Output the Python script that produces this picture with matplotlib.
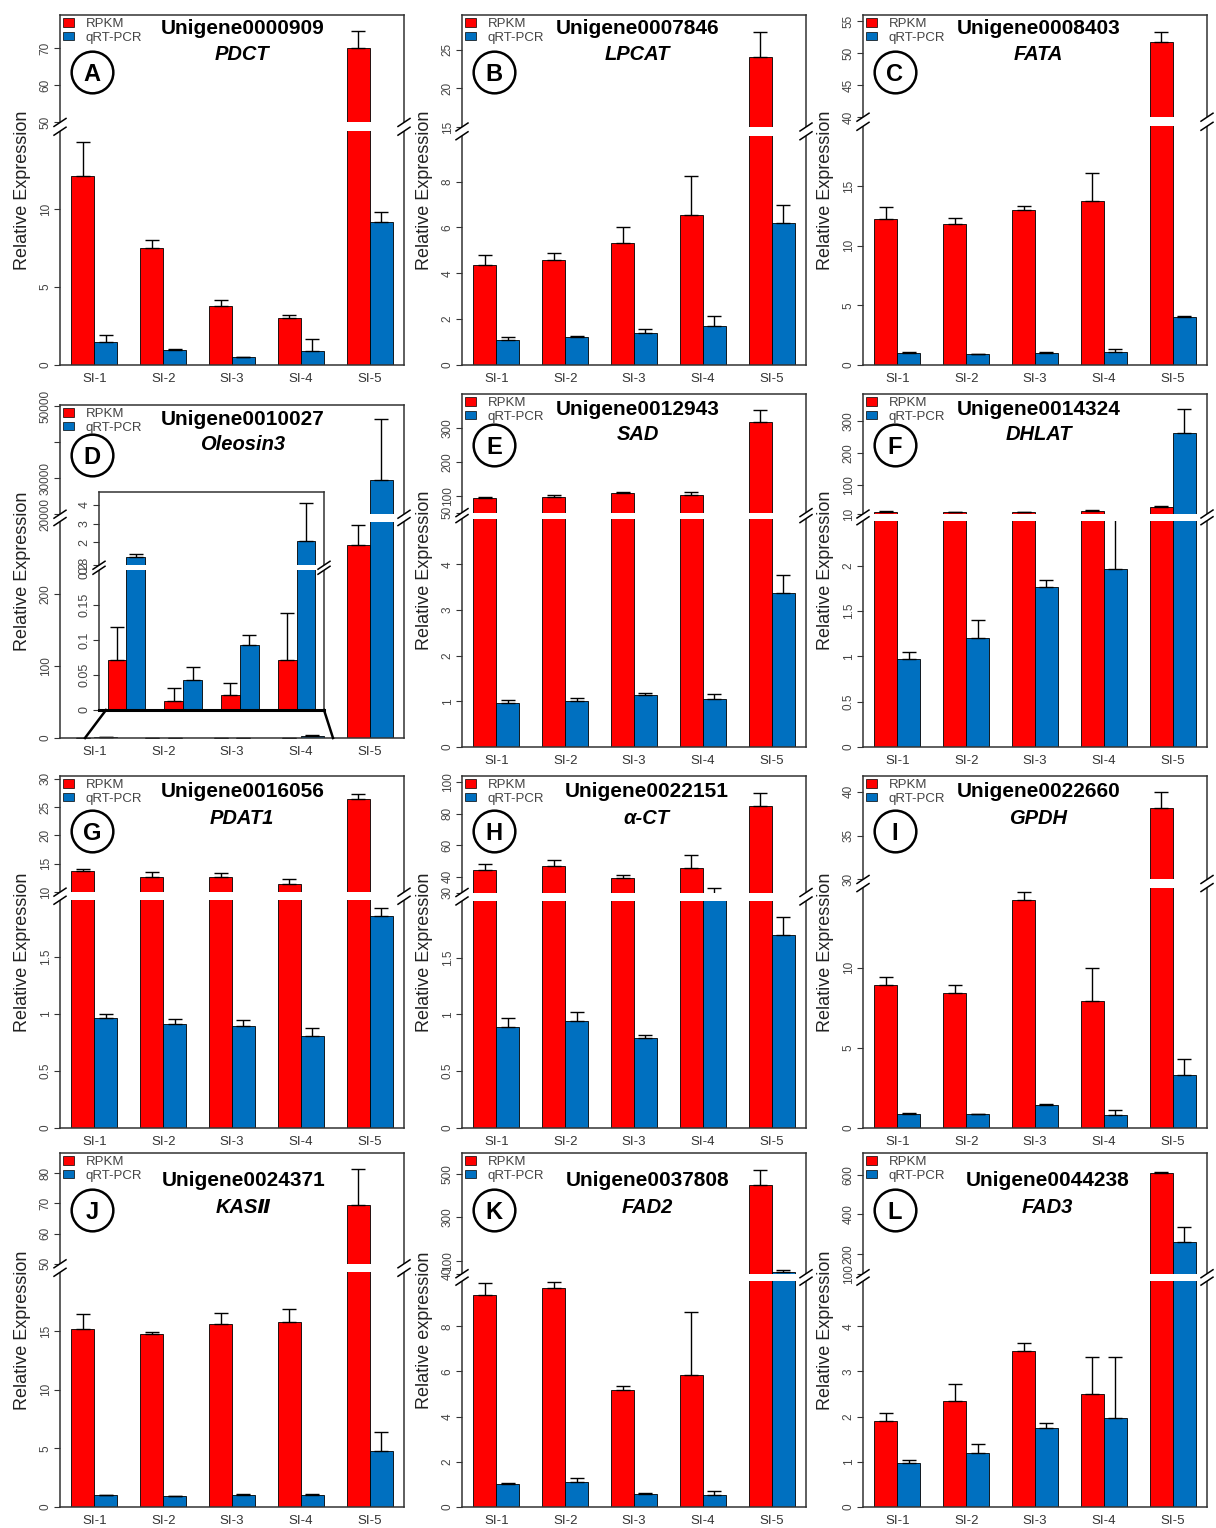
import numpy as np
import matplotlib.pyplot as plt
from matplotlib.patches import Patch, Polygon
from matplotlib.lines import Line2D
from matplotlib.ticker import NullLocator

plt.rcParams['font.family'] = ['Liberation Sans', 'DejaVu Sans', 'Noto Sans CJK SC']

RED = '#FF0000'
BLUE = '#0070C0'
INK = '#333333'

stages = ['SI-1', 'SI-2', 'SI-3', 'SI-4', 'SI-5']

# mean values and upper error bars: RPKM (red) and qRT-PCR (blue)
# (A) PDCT
pdct_rpkm = [12.1, 7.5, 3.8, 3.0, 70.0]
pdct_rpkm_err = [2.2, 0.55, 0.4, 0.2, 4.7]
pdct_qpcr = [1.5, 0.97, 0.5, 0.9, 9.2]
pdct_qpcr_err = [0.4, 0.05, 0.04, 0.75, 0.6]

# (B) LPCAT
lpcat_rpkm = [4.35, 4.6, 5.3, 6.55, 24.1]
lpcat_rpkm_err = [0.43, 0.3, 0.7, 1.7, 3.2]
lpcat_qpcr = [1.1, 1.2, 1.4, 1.7, 6.2]
lpcat_qpcr_err = [0.1, 0.07, 0.17, 0.45, 0.8]

# (C) FATA
fata_rpkm = [12.2, 11.8, 13.0, 13.7, 51.7]
fata_rpkm_err = [1.0, 0.5, 0.3, 2.4, 1.6]
fata_qpcr = [1.0, 0.91, 1.02, 1.1, 4.0]
fata_qpcr_err = [0.05, 0.03, 0.03, 0.2, 0.12]

# (D) Oleosin3
oleosin3_rpkm = [0.072, 0.013, 0.021, 0.072, 267]
oleosin3_rpkm_err = [0.047, 0.018, 0.017, 0.067, 28]
oleosin3_qpcr = [1.24, 0.043, 0.093, 2.08, 29400]
oleosin3_qpcr_err = [0.14, 0.019, 0.015, 2.0, 17000]

# (E) SAD
sad_rpkm = [93, 97, 108, 102, 317]
sad_rpkm_err = [3, 5, 4, 8, 37]
sad_qpcr = [0.97, 1.0, 1.13, 1.06, 3.37]
sad_qpcr_err = [0.05, 0.07, 0.06, 0.09, 0.4]

# (F) DHLAT
dhlat_rpkm = [16, 15, 16, 19, 33]
dhlat_rpkm_err = [2, 1, 1.5, 3, 2]
dhlat_qpcr = [0.97, 1.2, 1.77, 1.97, 261]
dhlat_qpcr_err = [0.08, 0.2, 0.08, 3.0, 75]

# (G) PDAT1
pdat1_rpkm = [13.7, 12.7, 12.7, 11.4, 26.4]
pdat1_rpkm_err = [0.35, 0.9, 0.6, 1.0, 1.0]
pdat1_qpcr = [0.97, 0.91, 0.9, 0.81, 1.86]
pdat1_qpcr_err = [0.03, 0.05, 0.045, 0.07, 0.07]

# (H) alpha-CT
act_rpkm = [44.6, 46.7, 39.4, 45.7, 85.2]
act_rpkm_err = [3.8, 4.2, 1.5, 8.4, 8.2]
act_qpcr = [0.89, 0.94, 0.79, 25, 1.7]
act_qpcr_err = [0.08, 0.08, 0.03, 8, 0.16]

# (I) GPDH
gpdh_rpkm = [8.9, 8.44, 14.2, 7.9, 38.1]
gpdh_rpkm_err = [0.5, 0.5, 0.5, 2.1, 1.9]
gpdh_qpcr = [0.9, 0.85, 1.46, 0.83, 3.3]
gpdh_qpcr_err = [0.04, 0.03, 0.04, 0.27, 1.0]

# (J) KASII
kas2_rpkm = [15.2, 14.7, 15.6, 15.8, 69.5]
kas2_rpkm_err = [1.25, 0.2, 0.95, 1.05, 11.8]
kas2_qpcr = [1.02, 0.94, 1.05, 1.05, 4.8]
kas2_qpcr_err = [0.04, 0.02, 0.03, 0.05, 1.6]

# (K) FAD2
fad2_rpkm = [9.4, 9.7, 5.2, 5.83, 447]
fad2_rpkm_err = [0.5, 0.25, 0.15, 2.8, 70]
fad2_qpcr = [1.03, 1.1, 0.59, 0.54, 49]
fad2_qpcr_err = [0.02, 0.2, 0.02, 0.16, 8]

# (L) FAD3
fad3_rpkm = [1.91, 2.34, 3.45, 2.51, 608]
fad3_rpkm_err = [0.18, 0.38, 0.18, 0.82, 4]
fad3_qpcr = [0.98, 1.19, 1.76, 1.96, 259]
fad3_qpcr_err = [0.07, 0.2, 0.09, 1.37, 76]

# brk = (top of lower segment, bottom of upper segment, axis top)
# frac = (height share of lower segment, height share of the gap)
panels = [
    dict(tag='A', unigene='Unigene0000909', gene='PDCT',
         data=(pdct_rpkm, pdct_rpkm_err, pdct_qpcr, pdct_qpcr_err),
         brk=(15, 50, 79), frac=(0.668, 0.025), ticks=([0, 5, 10], [50, 60, 70]), tx=0.53),
    dict(tag='B', unigene='Unigene0007846', gene='LPCAT',
         data=(lpcat_rpkm, lpcat_rpkm_err, lpcat_qpcr, lpcat_qpcr_err),
         brk=(10, 15, 29.5), frac=(0.655, 0.025), ticks=([0, 2, 4, 6, 8], [15, 20, 25]), tx=0.51),
    dict(tag='C', unigene='Unigene0008403', gene='FATA',
         data=(fata_rpkm, fata_rpkm_err, fata_qpcr, fata_qpcr_err),
         brk=(20, 40, 56), frac=(0.682, 0.026), ticks=([0, 5, 10, 15], [40, 45, 50, 55]), tx=0.51),
    dict(tag='D', unigene='Unigene0010027', gene='Oleosin3',
         data=(oleosin3_rpkm, oleosin3_rpkm_err, oleosin3_qpcr, oleosin3_qpcr_err),
         brk=(300, 20000, 50300), frac=(0.65, 0.022),
         ticks=([0, 100, 200], [20000, 30000, 40000, 50000]), tx=0.53),
    dict(tag='E', unigene='Unigene0012943', gene='SAD',
         data=(sad_rpkm, sad_rpkm_err, sad_qpcr, sad_qpcr_err),
         brk=(5, 50, 400), frac=(0.647, 0.017), ticks=([0, 1, 2, 3, 4], [50, 100, 200, 300]), tx=0.51),
    dict(tag='F', unigene='Unigene0014324', gene='DHLAT',
         data=(dhlat_rpkm, dhlat_rpkm_err, dhlat_qpcr, dhlat_qpcr_err),
         brk=(2.5, 10, 383), frac=(0.641, 0.019), ticks=([0, 0.5, 1, 1.5, 2], [10, 100, 200, 300]), tx=0.51),
    dict(tag='G', unigene='Unigene0016056', gene='PDAT1',
         data=(pdat1_rpkm, pdat1_rpkm_err, pdat1_qpcr, pdat1_qpcr_err),
         brk=(2, 10, 30.5), frac=(0.647, 0.023), ticks=([0, 0.5, 1, 1.5], [10, 15, 20, 25, 30]), tx=0.53),
    dict(tag='H', unigene='Unigene0022151', gene='α-CT',
         data=(act_rpkm, act_rpkm_err, act_qpcr, act_qpcr_err),
         brk=(2, 30, 104), frac=(0.645, 0.024), ticks=([0, 0.5, 1, 1.5], [30, 40, 60, 80, 100]), tx=0.537),
    dict(tag='I', unigene='Unigene0022660', gene='GPDH',
         data=(gpdh_rpkm, gpdh_rpkm_err, gpdh_qpcr, gpdh_qpcr_err),
         brk=(15, 30, 41.8), frac=(0.683, 0.023), ticks=([0, 5, 10], [30, 35, 40]), tx=0.51),
    dict(tag='J', unigene='Unigene0024371', gene='KASⅡ',
         data=(kas2_rpkm, kas2_rpkm_err, kas2_qpcr, kas2_qpcr_err),
         brk=(20, 50, 86.6), frac=(0.663, 0.024), ticks=([0, 5, 10, 15], [50, 60, 70, 80]), tx=0.533),
    dict(tag='K', unigene='Unigene0037808', gene='FAD2',
         data=(fad2_rpkm, fad2_rpkm_err, fad2_qpcr, fad2_qpcr_err),
         brk=(10, 40, 596), frac=(0.638, 0.021), ticks=([0, 2, 4, 6, 8], [40, 100, 300, 500]), tx=0.538,
         ylabel='Relative expression'),
    dict(tag='L', unigene='Unigene0044238', gene='FAD3',
         data=(fad3_rpkm, fad3_rpkm_err, fad3_qpcr, fad3_qpcr_err),
         brk=(5, 100, 710), frac=(0.638, 0.021), ticks=([0, 1, 2, 3, 4], [100, 200, 400, 600]), tx=0.537),
]

W, H = 1216, 1528
col_left = [60, 462, 863]
panel_w = 344
row_span = [(15, 365), (394, 747), (776, 1128), (1153, 1507)]
# title, gene name and circled letter heights (axes fraction) per row
row_text_y = [(0.962, 0.888, 0.836), (0.957, 0.886, 0.855), (0.955, 0.88, 0.845), (0.923, 0.847, 0.84)]


def px_rect(left, top, width, height):
    return [left / W, 1 - (top + height) / H, width / W, height / H]


def broken_scale(lo_top, hi_bot, hi_top, f_lo, f_gap):
    v = np.array([0.0, lo_top, hi_bot, hi_top])
    u = np.array([0.0, f_lo, f_lo + f_gap, 1.0])

    def piecewise(x, xs, ys):
        x = np.asarray(x, dtype=float)
        out = np.interp(x, xs, ys)
        lo_slope = (ys[1] - ys[0]) / (xs[1] - xs[0])
        hi_slope = (ys[3] - ys[2]) / (xs[3] - xs[2])
        out = np.where(x < xs[0], ys[0] + (x - xs[0]) * lo_slope, out)
        out = np.where(x > xs[3], ys[3] + (x - xs[3]) * hi_slope, out)
        return out

    return (lambda x: piecewise(x, v, u)), (lambda x: piecewise(x, u, v))


def break_marks(ax, f_lo, f_gap, w_px, h_px, sides=(0, 1)):
    dx = 6 / w_px
    dy = 4 / h_px
    y1, y2 = f_lo, f_lo + f_gap
    for x0 in sides:
        ax.add_patch(Polygon([(x0 - dx, y1 - dy), (x0 + dx, y1 + dy), (x0 + dx, y2 + dy), (x0 - dx, y2 - dy)],
                             closed=True, fc='white', ec='none', transform=ax.transAxes,
                             clip_on=False, zorder=4))
        for y in (y1, y2):
            ax.add_line(Line2D([x0 - dx, x0 + dx], [y - dy, y + dy], color='black', lw=1.1,
                               transform=ax.transAxes, clip_on=False, zorder=5))


def draw_bars(ax, rpkm, rpkm_err, qpcr, qpcr_err, centers, brk, frac, ticks, labels, w_px, h_px, tick_size):
    fwd, inv = broken_scale(*brk, *frac)
    ax.set_yscale('function', functions=(fwd, inv))
    zeros = np.zeros(len(rpkm))
    ax.bar(centers - 0.5, rpkm, 1.0, color=RED, edgecolor='black', linewidth=0.6, zorder=2)
    ax.bar(centers + 0.5, qpcr, 1.0, color=BLUE, edgecolor='black', linewidth=0.6, zorder=2)
    ax.errorbar(centers - 0.5, rpkm, yerr=[zeros, rpkm_err], fmt='none', ecolor='black',
                elinewidth=1.0, capsize=5, capthick=1.0, zorder=2.1)
    ax.errorbar(centers + 0.5, qpcr, yerr=[zeros, qpcr_err], fmt='none', ecolor='black',
                elinewidth=1.0, capsize=5, capthick=1.0, zorder=2.1)
    # white band that cuts the bars at the axis break
    ax.axhspan(brk[0], brk[1], color='white', lw=0, zorder=2.3)
    ax.set_ylim(0, brk[2])
    ax.set_yticks(ticks, labels)
    ax.yaxis.set_minor_locator(NullLocator())
    ax.tick_params(axis='y', length=4, width=0.8, color=INK, labelsize=tick_size,
                   labelcolor='#444444', pad=2, labelrotation=90)
    for lbl in ax.get_yticklabels():
        lbl.set_va('center')
    for s in ax.spines.values():
        s.set_color(INK)
        s.set_linewidth(1.1)
    break_marks(ax, frac[0], frac[1], w_px, h_px)


fig = plt.figure(figsize=(W / 100, H / 100), dpi=100)
fig.patch.set_facecolor('white')

centers = np.arange(len(stages)) * 3.0

for i, p in enumerate(panels):
    row, col = divmod(i, 3)
    top, bottom = row_span[row]
    ty, gy, cy = row_text_y[row]
    if p['tag'] == 'D':
        top, bottom = 405, 738
        ty, gy, cy = 0.955, 0.88, 0.85
    h_px = bottom - top
    ax = fig.add_axes(px_rect(col_left[col], top, panel_w, h_px))

    lo_ticks, hi_ticks = p['ticks']
    ticks = lo_ticks + hi_ticks
    labels = [f'{t:g}' for t in ticks]
    if p['tag'] == 'D':
        labels = [lab if lab != '40000' else '' for lab in labels]
    rpkm, rpkm_err, qpcr, qpcr_err = (np.asarray(a, dtype=float) for a in p['data'])
    draw_bars(ax, rpkm, rpkm_err, qpcr, qpcr_err, centers, p['brk'], p['frac'],
              ticks, labels, panel_w, h_px, 8.5)

    ax.set_xlim(-1.5, 13.5)
    ax.set_xticks(centers, stages)
    ax.tick_params(axis='x', length=0, labelsize=9.5, labelcolor=INK, pad=6)

    ax.set_ylabel(p.get('ylabel', 'Relative Expression'), fontsize=13, color='#222222')
    ax.yaxis.set_label_coords(-0.085, 0.5)

    handles = [Patch(facecolor=RED, edgecolor='black', linewidth=0.5, label='RPKM'),
               Patch(facecolor=BLUE, edgecolor='black', linewidth=0.5, label='qRT-PCR')]
    leg = ax.legend(handles=handles, loc='upper left', bbox_to_anchor=(0, 1), frameon=False,
                    fontsize=9.5, handlelength=0.8, handleheight=0.6, handletextpad=0.9,
                    labelspacing=0.12, borderaxespad=0.1, borderpad=0.15, labelcolor='#444444')
    leg.set_zorder(6)

    ax.text(p['tx'], ty, p['unigene'], transform=ax.transAxes, ha='center', va='center',
            fontsize=15, fontweight='bold', zorder=6)
    ax.text(p['tx'], gy, p['gene'], transform=ax.transAxes, ha='center', va='center',
            fontsize=14.5, fontweight='bold', style='italic', zorder=6)

    cx = 0.093
    ax.plot([cx], [cy], marker='o', ms=30, mfc='white', mec='black', mew=1.8,
            transform=ax.transAxes, clip_on=False, zorder=6)
    ax.text(cx, cy, p['tag'], transform=ax.transAxes, ha='center', va='center_baseline',
            fontsize=17, fontweight='bold', zorder=7)
    ax.set_ylim(0, p['brk'][2])

    if p['tag'] == 'D':
        # zoomed view of SI-1 to SI-4
        ins_left, ins_top, ins_w, ins_h = 99, 492, 225, 218
        ins = fig.add_axes(px_rect(ins_left, ins_top, ins_w, ins_h))
        ins.set_facecolor('white')
        ins_ticks = [0, 0.05, 0.1, 0.15, 0.2, 0.8, 2, 3, 4]
        draw_bars(ins, rpkm[:4], rpkm_err[:4], qpcr[:4], qpcr_err[:4], centers[:4],
                  (0.2, 0.8, 4.66), (0.641, 0.023), ins_ticks, [f'{t:g}' for t in ins_ticks],
                  ins_w, ins_h, 9)
        ins.set_xlim(-1.45, 10.45)
        ins.set_xticks([])
        ins.spines['bottom'].set_linewidth(2.2)
        ins.spines['bottom'].set_color('black')
        for x1, y1, x2, y2 in [(85, 738, 106, 710), (324, 710, 333, 738)]:
            fig.add_artist(Line2D([x1 / W, x2 / W], [1 - y1 / H, 1 - y2 / H],
                                  transform=fig.transFigure, color='black', lw=1.8))

fig.savefig('out.png', dpi=100, facecolor='white')
